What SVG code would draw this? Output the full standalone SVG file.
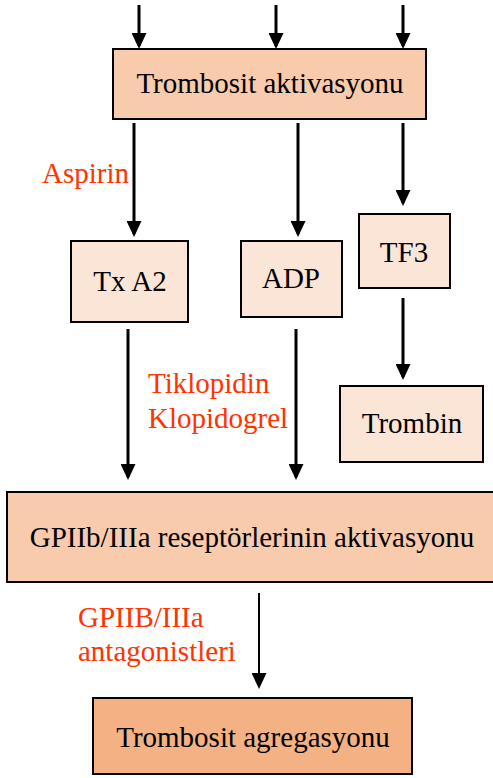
<svg xmlns="http://www.w3.org/2000/svg" width="493" height="778" viewBox="0 0 493 778">
  <style>
    .box { stroke: #000; stroke-width: 2; }
    .main { fill: #F8CBAD; }
    .sub { fill: #FBE5D6; }
    .final { fill: #F4B183; }
    text { font-family: 'Liberation Serif', 'DejaVu Serif', serif; font-size: 29px; }
    .lbl { fill: #000; text-anchor: middle; }
    .drug { fill: #FF3300; }
    .arrow { stroke: #000; stroke-width: 3; fill: none; marker-end: url(#head); }
    .thin { stroke-width: 2; }
  </style>
  <defs>
    <marker id="head" markerUnits="userSpaceOnUse" markerWidth="16" markerHeight="15" viewBox="0 0 16 15" refX="13" refY="7.5" orient="auto">
      <path d="M0,0 L16,7.5 L0,15 z" fill="#000"/>
    </marker>
  </defs>
  <rect width="493" height="778" fill="#fff"/>

  <!-- connectors -->
  <g id="connectors">
    <line class="arrow" x1="139" y1="5" x2="139" y2="46"/>
    <line class="arrow" x1="276" y1="5" x2="276" y2="46"/>
    <line class="arrow" x1="403" y1="5" x2="403" y2="46"/>
    <line class="arrow" x1="134" y1="123" x2="134" y2="234"/>
    <line class="arrow" x1="298" y1="123" x2="298" y2="234"/>
    <line class="arrow" x1="403" y1="123" x2="403" y2="203"/>
    <line class="arrow" x1="128" y1="329" x2="128" y2="477"/>
    <line class="arrow" x1="296" y1="329" x2="296" y2="477"/>
    <line class="arrow" x1="403" y1="298" x2="403" y2="377"/>
    <line class="arrow thin" x1="259" y1="593" x2="259" y2="686"/>
  </g>

  <!-- drug labels -->
  <g id="inhibitors">
    <text class="drug" x="42" y="183">Aspirin</text>
    <text class="drug" x="148" y="393">Tiklopidin</text>
    <text class="drug" x="148" y="428">Klopidogrel</text>
    <text class="drug" x="78" y="627">GPIIB/IIIa</text>
    <text class="drug" x="78" y="661">antagonistleri</text>
  </g>

  <g id="activation">
    <rect class="box main" x="113" y="49" width="313" height="70"/>
    <text class="lbl" x="270" y="93">Trombosit aktivasyonu</text>
  </g>
  <g id="txa2">
    <rect class="box sub" x="71" y="241" width="117" height="81"/>
    <text class="lbl" x="130" y="291">Tx A2</text>
  </g>
  <g id="adp">
    <rect class="box sub" x="241" y="241" width="101" height="76"/>
    <text class="lbl" x="291" y="288">ADP</text>
  </g>
  <g id="tf3">
    <rect class="box sub" x="359" y="214" width="91" height="74"/>
    <text class="lbl" x="404" y="262">TF3</text>
  </g>
  <g id="trombin">
    <rect class="box sub" x="340" y="386" width="143" height="76"/>
    <text class="lbl" x="412" y="433">Trombin</text>
  </g>
  <g id="gpiib">
    <rect class="box main" x="7" y="492" width="490" height="90"/>
    <text class="lbl" x="252" y="547">GPIIb/IIIa reseptörlerinin aktivasyonu</text>
  </g>
  <g id="aggregation">
    <rect class="box final" x="93" y="698" width="319" height="76"/>
    <text class="lbl" x="253" y="747">Trombosit agregasyonu</text>
  </g>
</svg>
